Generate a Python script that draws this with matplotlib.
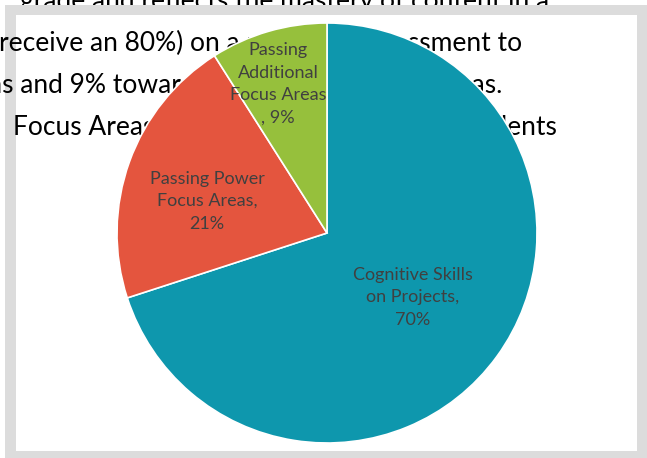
import matplotlib
matplotlib.use('Agg')
import matplotlib.pyplot as plt
from matplotlib.patches import Rectangle

W, H = 647, 458

# pie data
names = ['Cognitive Skills\non Projects,', 'Passing Power\nFocus Areas,', 'Passing\nAdditional\nFocus Areas\n,']
shares = [70, 21, 9]
colors = ['#0E97AD', '#E4553E', '#96C03C']

# page text sitting behind the chart (left part, right part, baseline in px from top)
page_lines = [
    ('grade and reflects the mastery of content in a', '', 9),
    ('receive an 80%) on a unit', 'assessment to', 51),
    ('as and 9% towards', 'Additional Focus Areas.', 93),
    ('Focus Areas and', 'Skills for students', 135),
]
page_left_x = [20, -1, -11, 13]
page_right_x = [0, 522, 502, 557]

plt.rcParams['font.family'] = ['Lato', 'DejaVu Sans']

fig = plt.figure(figsize=(W / 100, H / 100), dpi=100)
fig.patch.set_facecolor('white')


def fx(x):
    return x / W


def fy(y):
    return 1 - y / H


for i, (left, right, base) in enumerate(page_lines):
    z = 0.5 if i == 0 else 2
    fig.text(fx(page_left_x[i]), fy(base), left, ha='left', va='baseline',
             fontsize=19, color='black', zorder=z)
    if right:
        fig.text(fx(page_right_x[i]), fy(base), right, ha='right', va='baseline',
                 fontsize=19, color='black', zorder=z)

# grey frame round the chart
grey = '#DCDCDC'
for x0, y0, x1, y1 in [(5, 5, 647, 15), (5, 5, 16, 458), (637, 5, 647, 458), (5, 451, 647, 458)]:
    fig.patches.append(Rectangle((fx(x0), fy(y1)), (x1 - x0) / W, (y1 - y0) / H,
                                 transform=fig.transFigure, facecolor=grey,
                                 edgecolor='none', zorder=1))

cx, cy, r = 327, 233, 210
ax = fig.add_axes([fx(cx - r), fy(cy + r), 2 * r / W, 2 * r / H], zorder=3)
ax.patch.set_alpha(0)
wedges, _ = ax.pie(shares, colors=colors, startangle=90, counterclock=False,
                   wedgeprops=dict(edgecolor='white', linewidth=1.2))
ax.set_xlim(-1, 1)
ax.set_ylim(-1, 1)
ax.set_aspect('equal')
ax.axis('off')

label_xy = [(0.41, -0.305), (-0.571, 0.152), (-0.233, 0.71)]
for (lx, ly), name, v in zip(label_xy, names, shares):
    if name.endswith('\n,'):
        txt = name + f' {v}%'
    else:
        txt = name + '\n' + f'{v}%'
    ax.text(lx, ly, txt, ha='center', va='center', fontsize=13,
            color='#404040', linespacing=1.5)

fig.savefig('out.png', dpi=100)
